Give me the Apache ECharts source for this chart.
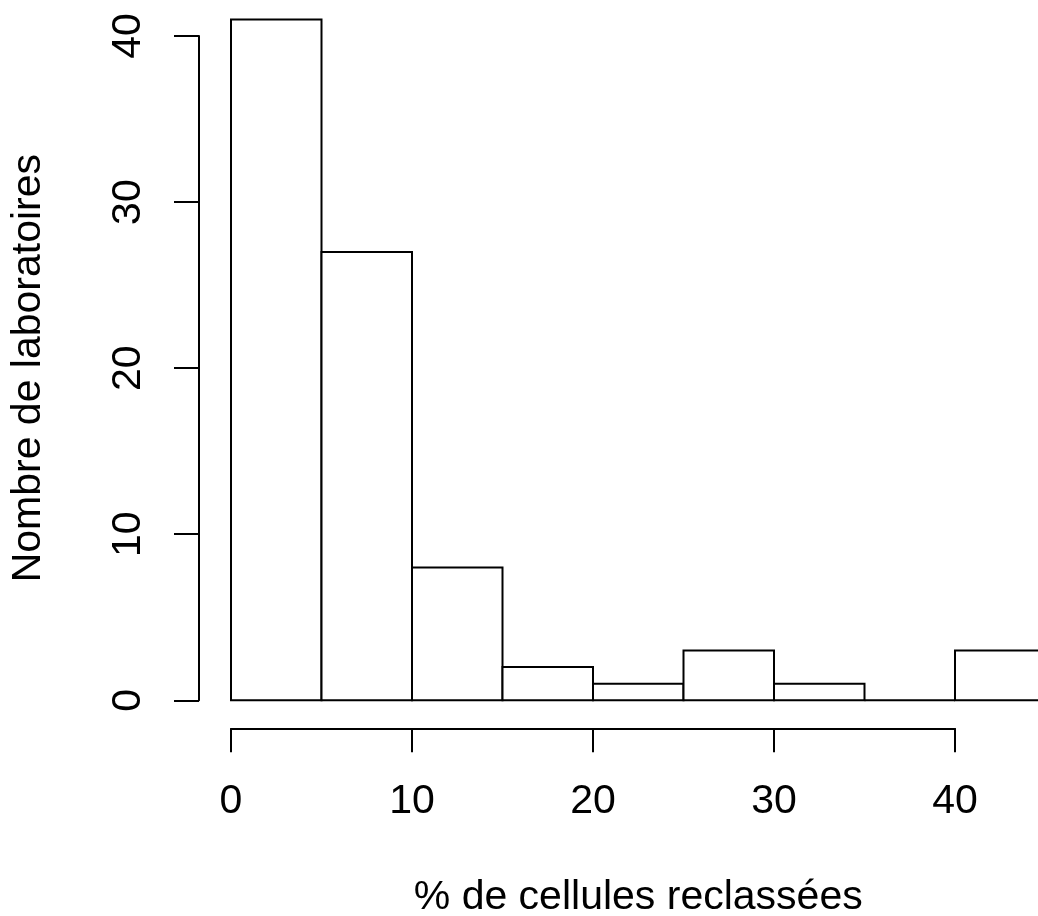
<!DOCTYPE html>
<html>
<head>
<meta charset="utf-8">
<script src="https://cdn.jsdelivr.net/npm/echarts@6/dist/echarts.min.js"></script>
<style>
html,body{margin:0;padding:0;background:#fff;}
#chart{width:1038px;height:916px;}
</style>
</head>
<body>
<div id="chart"></div>
<script>
// Histogram bins (lower edge, upper edge) and counts
const binStarts = [0, 5, 10, 15, 20, 25, 30, 35, 40];
const binEnds   = [5, 10, 15, 20, 25, 30, 35, 40, 45];
const counts    = [41, 27, 8, 2, 1, 3, 1, 0, 3];
const xTicks = [0, 10, 20, 30, 40];
const yTicks = [0, 10, 20, 30, 40];
const xTitle = '% de cellules reclassées';
const yTitle = 'Nombre de laboratoires';

const FONT = "'Liberation Sans', Arial, Helvetica, sans-serif";
const FS = 41;
const LW = 2;

const histData = binStarts.map((s, i) => [s, binEnds[i], counts[i]]);

const chart = echarts.init(document.getElementById('chart'), null, {renderer: 'canvas'});
chart.setOption({
  animation: false,
  backgroundColor: '#ffffff',
  grid: [
    {left: 231, top: 36, width: 814.5, height: 664.3, containLabel: false, outerBoundsMode: 'none'},
    {left: 231, top: 64, width: 724, height: 664.3, containLabel: false, outerBoundsMode: 'none'}
  ],
  xAxis: [
    {
      gridIndex: 0, type: 'value', min: 0, max: 45,
      axisLine: {show: false, onZero: false}, axisTick: {show: false}, axisLabel: {show: false}, splitLine: {show: false},
      name: xTitle, nameLocation: 'middle', nameGap: 177,
      nameTextStyle: {fontFamily: FONT, fontSize: FS, color: '#000'}
    },
    {
      gridIndex: 1, type: 'value', min: 0, max: 40, interval: 10,
      axisLine: {show: true, onZero: false, lineStyle: {color: '#000', width: LW}},
      axisTick: {show: true, inside: false, length: 24, lineStyle: {color: '#000', width: LW}, customValues: xTicks},
      axisLabel: {show: true, fontFamily: FONT, fontSize: FS, color: '#000', margin: 53, customValues: xTicks},
      splitLine: {show: false}
    }
  ],
  yAxis: [
    {
      gridIndex: 0, type: 'value', min: 0, max: 40, interval: 10, offset: 32,
      axisLine: {show: true, onZero: false, lineStyle: {color: '#000', width: LW}},
      axisTick: {show: true, length: 25, lineStyle: {color: '#000', width: LW}, customValues: yTicks},
      axisLabel: {show: true, fontFamily: FONT, fontSize: FS, color: '#000', rotate: 90, margin: 50, customValues: yTicks},
      splitLine: {show: false},
      name: yTitle, nameLocation: 'middle', nameGap: 150, nameRotate: 90,
      nameTextStyle: {fontFamily: FONT, fontSize: FS, color: '#000'}
    },
    {
      gridIndex: 1, type: 'value', min: 0, max: 40, show: false
    }
  ],
  series: [{
    type: 'custom',
    xAxisIndex: 0, yAxisIndex: 0,
    clip: false,
    data: histData,
    encode: {x: [0, 1], y: 2},
    renderItem: function (params, api) {
      const p0 = api.coord([api.value(0), api.value(2)]);
      const p1 = api.coord([api.value(1), 0]);
      return {
        type: 'rect',
        shape: {x: p0[0], y: p0[1], width: p1[0] - p0[0], height: p1[1] - p0[1]},
        style: {fill: '#ffffff', stroke: '#000000', lineWidth: LW}
      };
    }
  }]
});
</script>
</body>
</html>
